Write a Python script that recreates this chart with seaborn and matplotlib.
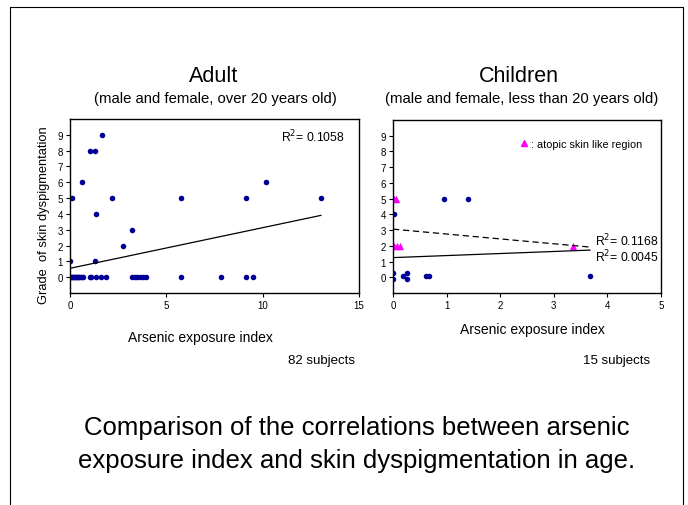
import numpy as np
import pandas as pd
import seaborn as sns
import matplotlib.pyplot as plt
from matplotlib.lines import Line2D

# adult scatter (82 subjects, many overlap at grade 0)
adult_x = [0.0, 0.05, 0.1, 0.15, 0.2, 0.25, 0.3, 0.35, 0.4, 0.45, 0.5, 0.6, 0.65,
           1.04, 1.08, 1.37, 1.6, 1.85, 3.2, 3.35, 3.5, 3.65, 3.8, 3.97, 5.74, 7.85, 9.12, 9.48,
           0.0, 1.3, 2.77, 3.2, 1.35, 0.09, 2.2, 5.74, 9.12, 13.03, 0.62, 10.16, 1.04, 1.28, 1.65]
adult_y = [0, 0, 0, 0, 0, 0, 0, 0, 0, 0, 0, 0, 0,
           0, 0, 0, 0, 0, 0, 0, 0, 0, 0, 0, 0, 0, 0, 0,
           1, 1, 2, 3, 4, 5, 5, 5, 5, 5, 6, 6, 8, 8, 9]

# children scatter
child_x = [0.0, 0.0, 0.19, 0.26, 0.26, 0.61, 0.68, 3.68, 0.02, 0.96, 1.4]
child_y = [0.25, -0.1, 0.08, 0.25, -0.1, 0.08, 0.08, 0.08, 4.05, 5.0, 5.0]
atopic_x = [0.02, 0.06, 0.02, 0.07, 0.13, 3.35]
atopic_y = [5, 5, 2, 2, 2, 2]

# fitted lines: (intercept, slope, x range)
adult_fit = (0.56, 0.257, [0, 13.03])
child_fit_all = (1.25, 0.13, [0, 3.68])
child_fit_atopic = (3.06, -0.31, [0, 3.68])

navy = "#000099"
pink = "#FF00FF"

sns.set_style("ticks")
plt.rcParams['font.family'] = ['Liberation Sans', 'DejaVu Sans']
plt.rcParams.update({"text.color": "black", "axes.labelcolor": "black",
                     "xtick.color": "black", "ytick.color": "black"})

fig = plt.figure(figsize=(6.88, 5.06), dpi=100)
W, H = 688, 506


def ax_px(x0, y0, x1, y1):
    return fig.add_axes([x0 / W, 1 - y1 / H, (x1 - x0) / W, (y1 - y0) / H])


def fit_line(ax, fit, ls):
    b, m, xr = fit
    xr = np.array(xr)
    ax.plot(xr, b + m * xr, color="black", lw=0.9, ls=ls)


def style(ax, xmax, xstep):
    ax.set_xlim(0, xmax)
    ax.set_ylim(-1, 10)
    ax.set_xticks(np.arange(0, xmax + 0.1, xstep))
    ax.set_yticks(range(10))
    ax.tick_params(labelsize=7, length=3, width=0.8, color="black", pad=2)
    for s in ax.spines.values():
        s.set_visible(True)
        s.set_color("black")
        s.set_linewidth(1.0)
    ax.set_ylabel("")
    ax.set_xlabel("")


# adult panel
ax1 = ax_px(70, 120, 359, 294)
sns.scatterplot(x=adult_x, y=adult_y, ax=ax1, color=navy, s=16, edgecolor=navy, linewidth=0)
fit_line(ax1, adult_fit, "-")
style(ax1, 15, 5)
ax1.text(10.95, 8.9, "R$^2$= 0.1058", fontsize=8.7, va="center")
ax1.set_xlabel("Arsenic exposure index", fontsize=10)
ax1.xaxis.set_label_coords(0.45, -0.21)
ax1.set_ylabel("Grade  of skin dyspigmentation", fontsize=9.3)
ax1.yaxis.set_label_coords(-0.068, 0.455)

# children panel
ax2 = ax_px(393, 121, 661, 294)
sns.scatterplot(x=child_x, y=child_y, ax=ax2, color=navy, s=16, edgecolor=navy, linewidth=0)
sns.scatterplot(x=atopic_x, y=atopic_y, ax=ax2, color=pink, marker="^", s=28, edgecolor=pink, linewidth=0)
fit_line(ax2, child_fit_atopic, (0, (5, 3)))
fit_line(ax2, child_fit_all, "-")
style(ax2, 5, 1)
ax2.text(3.76, 2.4, "R$^2$= 0.1168", fontsize=8.7, va="center")
ax2.text(3.76, 1.33, "R$^2$= 0.0045", fontsize=8.7, va="center")
ax2.set_xlabel("Arsenic exposure index", fontsize=10)
ax2.xaxis.set_label_coords(0.52, -0.17)
key = Line2D([], [], marker="^", color=pink, ls="none", markersize=5)
ax2.legend([key], [": atopic skin like region"], loc="center left",
           bbox_to_anchor=(0.445, 0.86), frameon=False, fontsize=7.8,
           handletextpad=0.0, handlelength=1.2, borderpad=0)

# titles
fig.text(214 / W, 1 - 76 / H, "Adult", ha="center", va="center", fontsize=15.5)
fig.text(215 / W, 1 - 99 / H, "(male and female, over 20 years old)", ha="center", va="center", fontsize=10.7)
fig.text(519 / W, 1 - 76 / H, "Children", ha="center", va="center", fontsize=15.5)
fig.text(522 / W, 1 - 99 / H, "(male and female, less than 20 years old)", ha="center", va="center", fontsize=10.7)
fig.text(355 / W, 1 - 361 / H, "82 subjects", ha="right", va="center", fontsize=9.5)
fig.text(650 / W, 1 - 361 / H, "15 subjects", ha="right", va="center", fontsize=9.5)

fig.text(357 / W, 1 - 428 / H, "Comparison of the correlations between arsenic", ha="center", va="center", fontsize=18.5)
fig.text(357 / W, 1 - 461 / H, "exposure index and skin dyspigmentation in age.", ha="center", va="center", fontsize=18.5)

# slide border (no bottom edge)
for xs, ys in [([10, 10], [8, 506]), ([10, 683], [8, 8]), ([683, 683], [8, 506])]:
    fig.add_artist(Line2D(np.array(xs) / W, 1 - np.array(ys) / H, color="black", lw=0.8))

fig.savefig("out.png", dpi=100)
